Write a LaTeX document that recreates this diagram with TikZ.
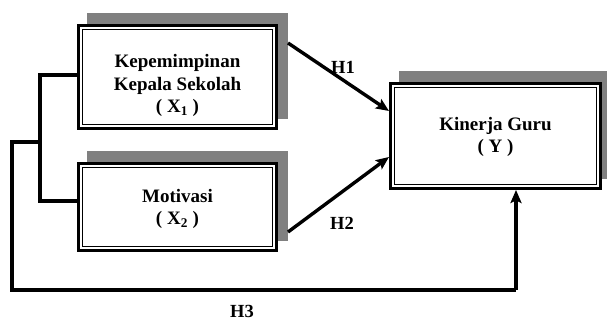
\documentclass[tikz,border=0pt]{standalone}
\usepackage{fontspec}
\setmainfont{Liberation Serif}
\usetikzlibrary{arrows.meta,backgrounds}
\definecolor{shadowgray}{RGB}{128,128,128}
\tikzset{
  varbox/.style={draw, line width=3.3pt, fill=white, inner sep=0pt},
  vartext/.style={align=center, inner sep=0pt, font=\fontsize{19}{22.5}\selectfont\bfseries},
  tree/.style={line width=3.2pt, line join=miter},
  path arrow/.style={line width=3.4pt, -{Stealth[length=13pt,width=11pt,inset=2.5pt]}},
  hyp/.style={font=\fontsize{18.5}{20}\selectfont\bfseries, inner sep=0pt},
}
\begin{document}
\begin{tikzpicture}[x=1pt,y=1pt]
\useasboundingbox (0,0) rectangle (607,320);

% variable boxes
\node[varbox, minimum width=197.7pt, minimum height=102.7pt] (x1) at (177.5,243) {};
\node[varbox, minimum width=197.7pt, minimum height=86.7pt] (x2) at (177.5,113) {};
\node[varbox, minimum width=209.7pt, minimum height=104.7pt] (y) at (495.5,184) {};

% offset shadows and inner frame lines
\begin{scope}[on background layer]
  \foreach \n in {x1,x2,y}
    \fill[shadowgray] ([shift={(10,11)}]\n.south west) rectangle ([shift={(10,11)}]\n.north east);
\end{scope}
\foreach \n in {x1,x2,y}
  \draw[line width=1.2pt] ([shift={(5.6,5.6)}]\n.south west) rectangle ([shift={(-5.6,-5.6)}]\n.north east);

% box captions
\node[vartext] (x1t) at ([yshift=-8.5pt]x1.center) {Kepemimpinan\\Kepala Sekolah\\( X\textsubscript{1} )};
\node[vartext] (x2t) at ([yshift=-2pt]x2.center) {Motivasi\\( X\textsubscript{2} )};
\node[vartext] (yt) at ([yshift=-1pt]y.center) {Kinerja Guru\\( Y )};

% bracket joining the two independent variables
\coordinate (j1) at (40,245);
\coordinate (j2) at (40,119);
\coordinate (jm) at (40,178);
\coordinate (k1) at (12,178);
\coordinate (k2) at (12,30);
\draw[tree] (x1.west |- j1) -- (j1) -- (j2) -- (x2.west |- j2);
\draw[tree] (jm) -- (k1) -- (k2) -- ([xshift=20.5pt]y.south |- k2);
\draw[path arrow] ([xshift=20.5pt]y.south |- k2) -- ([xshift=20.5pt]y.south);

% hypothesis paths
\draw[path arrow] ([shift={(10,-19)}]x1.north east) -- ([yshift=25pt]y.west);
\draw[path arrow] ([shift={(10,20)}]x2.south east) -- ([yshift=-21pt]y.west);

% hypothesis labels
\node[hyp] (h1) at (343,253) {H1};
\node[hyp] (h2) at (342,97) {H2};
\node[hyp] (h3) at (242,8.5) {H3};
\end{tikzpicture}
\end{document}
